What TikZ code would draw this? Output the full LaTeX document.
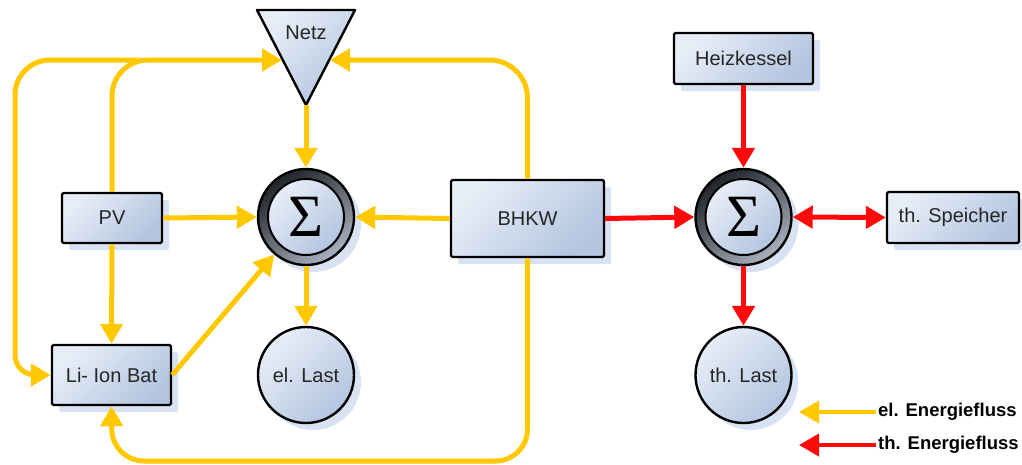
\documentclass[tikz,border=0pt]{standalone}
\usepackage{fontspec}
\setmainfont{Liberation Sans}
\newfontfamily\sigmafont{Liberation Serif}
\usetikzlibrary{arrows.meta,shadows}

\definecolor{elflow}{HTML}{FFC800}
\definecolor{thflow}{HTML}{FF0A0A}
\definecolor{boxlight}{HTML}{E8EEF8}
\definecolor{boxdark}{HTML}{B3C5DF}
\definecolor{shadowblue}{HTML}{D7E2F2}
\definecolor{ringdark}{HTML}{202328}
\definecolor{ringlight}{HTML}{A9B1BF}
\definecolor{labeltext}{HTML}{262626}

\tikzset{
  blockshadow/.style={general shadow={fill=shadowblue, shadow xshift=7pt, shadow yshift=-7pt}},
  blockfill/.style={top color=boxlight, bottom color=boxdark, shading angle=45},
  labelfont/.style={font=\fontsize{20}{22}\selectfont, text=labeltext},
  block/.style={rectangle, draw=black, line width=2.4pt, rounded corners=1.5pt,
    blockfill, blockshadow, labelfont, inner sep=0pt},
  ball/.style={circle, draw=black, line width=2.4pt, minimum size=96pt,
    blockfill, blockshadow, labelfont, inner sep=0pt},
  sumring/.style={circle, draw=black, line width=2.4pt, minimum size=96pt,
    top color=ringdark, bottom color=ringlight, shading angle=35, blockshadow},
  suminner/.style={circle, draw=black, line width=2pt, minimum size=76pt,
    blockfill, inner sep=0pt, font=\sigmafont\fontsize{60}{60}\selectfont},
  tip/.style={-{Triangle[length=20pt,width=22pt]}},
  el/.style={draw=elflow, line width=5pt, tip},
  th/.style={draw=thflow, line width=5pt, tip},
  legendtext/.style={font=\bfseries\fontsize{18.5}{20}\selectfont, text=black, inner sep=2pt}
}

\begin{document}
\begin{tikzpicture}[x=1pt, y=-1pt]
\useasboundingbox (0,0) rectangle (1022,464);

% grid supply: downward triangle with its shadow
\coordinate (netzTL) at (257,10);
\coordinate (netzTR) at (355,10);
\coordinate (netzapex) at (306,105);
\coordinate (netzL) at (282,60);
\coordinate (netzR) at (330,60);
\fill[shadowblue, shift={(8,8)}] (netzTL) -- (netzTR) -- (netzapex) -- cycle;
\filldraw[draw=black, line width=2.4pt, line join=round, blockfill]
  (netzTL) -- (netzTR) -- (netzapex) -- cycle;
\node[labelfont] (netz) at (306,33) {Netz};

% electrical side
\node[block, minimum width=100pt, minimum height=50pt] (pv) at (112,218) {PV};
\node[block, minimum width=119pt, minimum height=60pt] (bat) at (111.5,375) {Li- Ion Bat};
\node[block, minimum width=153pt, minimum height=77pt] (bhkw) at (527.5,218.5) {BHKW};
\node[sumring] (sumel) at (306,217) {};
\node[suminner] (sumelin) at (sumel) {Σ};
\node[ball] (ellast) at (306,375) {el. Last};

% thermal side
\node[block, minimum width=139pt, minimum height=51pt] (heiz) at (743.5,58.5) {Heizkessel};
\node[block, minimum width=132pt, minimum height=51pt] (speicher) at (953,217.5) {th. Speicher};
\node[sumring] (sumth) at (743.5,217) {};
\node[suminner] (sumthin) at (sumth) {Σ};
\node[ball] (thlast) at (743.5,375) {th. Last};

% electrical energy flows
\coordinate (toprail) at (140,60);
\coordinate (leftarc) at (50,60);
\coordinate (leftlow) at (15,355);
\coordinate (botrail) at (112,461);
\draw[el] (netzapex) -- (sumel.north);
\draw[el] (pv.east) -- (sumel.west);
\draw[el] (bhkw.west) -- (sumel.east);
\draw[el] (sumel.south) -- (ellast.north);
\draw[el] (bat.east) -- (sumel);
\draw[el] (pv.south) -- (bat.north);
\draw[el, rounded corners=36pt] (pv.north) |- (netzL);
% outer loop on the left: top rail down to the battery
\draw[el] (toprail) -- (leftarc)
  arc[start angle=90, end angle=180, radius=35pt] -- (leftlow)
  arc[start angle=180, end angle=270, radius=20pt] -- (bat.west);
\draw[el, rounded corners=38pt] (bhkw.north) |- (netzR);
\draw[el, rounded corners=32pt] (bhkw.south) |- (botrail) -- (bat.south);

% thermal energy flows
\draw[th] (bhkw.east) -- (sumth.west);
\draw[th] (heiz.south) -- (sumth.north);
\draw[th, {Triangle[length=20pt,width=22pt]}-{Triangle[length=20pt,width=22pt]}] (sumth.east) -- (speicher.west);
\draw[th] (sumth.south) -- (thlast.north);

% legend
\node[legendtext, anchor=west] (legel) at (876,412) {el. Energiefluss};
\node[legendtext, anchor=west] (legth) at (876,445) {th. Energiefluss};
\coordinate (legelend) at (799,412);
\coordinate (legthend) at (799,445);
\draw[el, line width=4pt] (legel.west) -- (legelend);
\draw[th, line width=4pt] (legth.west) -- (legthend);
\end{tikzpicture}
\end{document}
